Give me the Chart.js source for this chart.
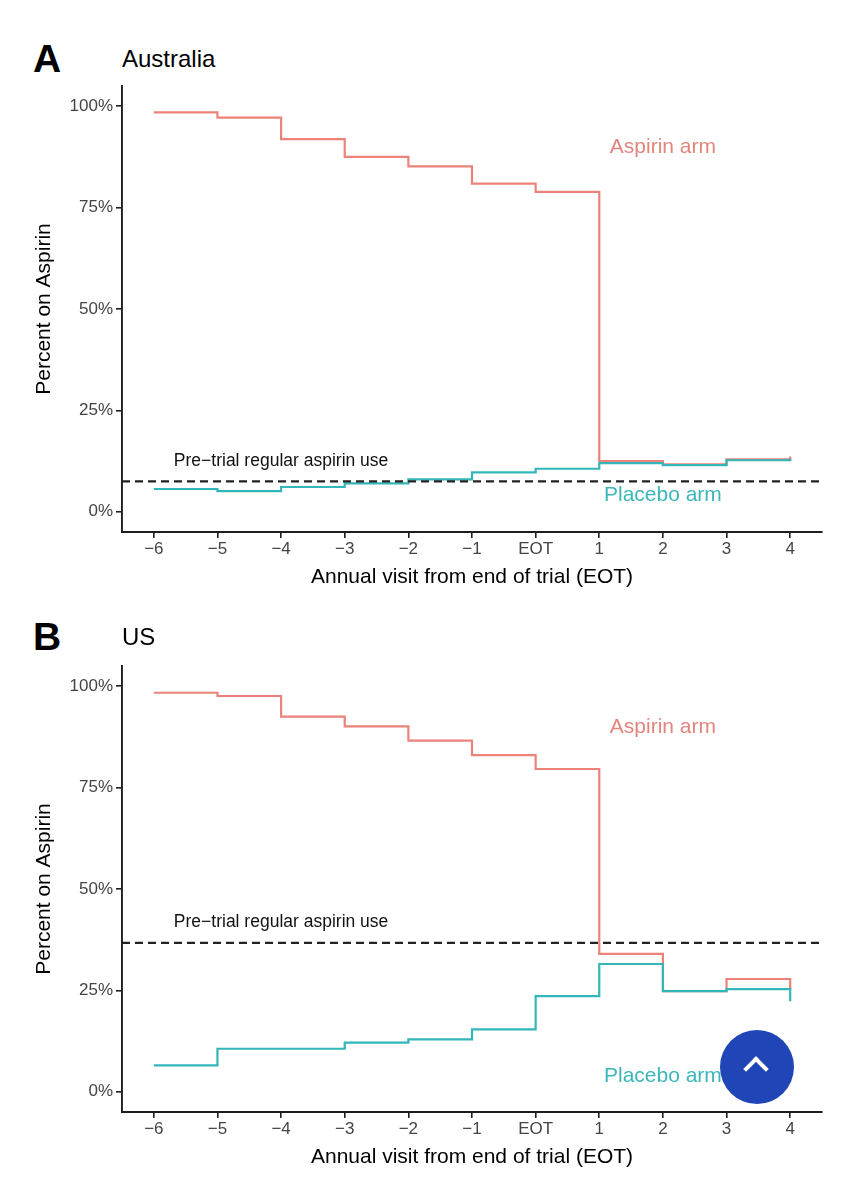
<!DOCTYPE html>
<html>
<head>
<meta charset="utf-8">
<script src="https://cdn.jsdelivr.net/npm/chart.js@4.4.1/dist/chart.umd.min.js"></script>
<style>
  html, body { margin: 0; padding: 0; background: #fff; }
  body { width: 857px; height: 1200px; position: relative; overflow: hidden; font-family: 'Liberation Sans', Arial, sans-serif; }
  .panel { position: absolute; left: 0; }
  .letter { position: absolute; font-weight: bold; font-size: 39px; line-height: 1; color: #000; }
  .title { position: absolute; font-size: 24px; line-height: 1; color: #000; }
  .to-top { position: absolute; left: 720px; top: 1030px; width: 74px; height: 74px; border-radius: 50%; background: #1f45b7; }
  .to-top::after { content: ''; position: absolute; left: 27px; top: 30px; width: 14px; height: 14px; border-left: 4px solid #fff; border-top: 4px solid #fff; transform: rotate(45deg); }
</style>
</head>
<body>
<div class="letter" style="left:33px;top:39px;">A</div>
<div class="title" style="left:122px;top:47px;">Australia</div>
<canvas id="chartAus" class="panel" style="top:0px;" width="857" height="600"></canvas>

<div class="letter" style="left:33px;top:617px;">B</div>
<div class="title" style="left:122px;top:625px;">US</div>
<canvas id="chartUs" class="panel" style="top:580px;" width="857" height="600"></canvas>

<div class="to-top"></div>

<script>
// step data: percent on aspirin at each annual visit
const visits = [-6, -5, -4, -3, -2, -1, 0, 1, 2, 3, 4];
const yTicks = [0, 25, 50, 75, 100];

const ausAspirin = [98.5, 97.2, 91.9, 87.5, 85.2, 80.9, 78.9, 12.5, 11.7, 12.9, 13.6];
const ausPlacebo = [5.6, 5.1, 6.1, 7.0, 8.0, 9.7, 10.6, 12.0, 11.5, 12.7, 13.1];
const ausPretrial = 7.5;

const usAspirin = [98.4, 97.6, 92.5, 90.1, 86.6, 83.0, 79.6, 34.0, 24.8, 27.8, 25.3];
const usPlacebo = [6.5, 10.6, 10.6, 12.1, 12.9, 15.4, 23.6, 31.5, 24.8, 25.3, 22.3];
const usPretrial = 36.7;

// label anchors in data units [x, y]
const ausLabelPos = { aspirin: [2, 90], placebo: [2, 4], pretrial: [-4, 12.5] };
const usLabelPos = { aspirin: [2, 90], placebo: [2, 3.8], pretrial: [-4, 41.7] };

const FONT = "'Liberation Sans', Arial, sans-serif";
const ASPIRIN_COLOR = '#ec8279';
const PLACEBO_COLOR = '#33b6b9';
const AXIS_COLOR = '#1e1e1e';
const X_RANGE = [-6.5, 4.5];

const toPoints = (arr) => visits.map((v, i) => ({ x: v, y: arr[i] }));
const fmtVisit = (v) => (v === 0 ? 'EOT' : String(v).replace('-', '\u2212'));

function makeLabelPlugin(items) {
  return {
    id: 'armLabels',
    afterDatasetsDraw(chart) {
      const { ctx, scales: { x, y } } = chart;
      ctx.save();
      ctx.textAlign = 'center';
      ctx.textBaseline = 'middle';
      items.forEach((item) => {
        ctx.font = `${item.size}px ${FONT}`;
        ctx.fillStyle = item.color;
        ctx.fillText(item.text, x.getPixelForValue(item.pos[0]), y.getPixelForValue(item.pos[1]));
      });
      ctx.restore();
    }
  };
}

function makePanel(canvasId, aspirin, placebo, pretrial, labelPos) {
  const ctx = document.getElementById(canvasId).getContext('2d');
  const labels = [
    { text: 'Aspirin arm', pos: labelPos.aspirin, size: 21, color: '#e2857d' },
    { text: 'Placebo arm', pos: labelPos.placebo, size: 21, color: '#3cb6b8' },
    { text: 'Pre\u2212trial regular aspirin use', pos: labelPos.pretrial, size: 17.5, color: '#111' }
  ];
  return new Chart(ctx, {
    type: 'line',
    data: {
      datasets: [
        {
          label: 'Pre-trial',
          data: X_RANGE.map((x) => ({ x, y: pretrial })),
          borderColor: '#222',
          borderWidth: 2.2,
          borderDash: [8, 5],
          pointRadius: 0
        },
        {
          label: 'Placebo arm',
          data: toPoints(placebo),
          borderColor: PLACEBO_COLOR,
          borderWidth: 2.2,
          stepped: 'before',
          pointRadius: 0
        },
        {
          label: 'Aspirin arm',
          data: toPoints(aspirin),
          borderColor: ASPIRIN_COLOR,
          borderWidth: 2.2,
          stepped: 'before',
          pointRadius: 0
        }
      ]
    },
    options: {
      responsive: false,
      animation: false,
      layout: { padding: { top: 86, right: 35, bottom: 10, left: 0 } },
      plugins: { legend: { display: false }, tooltip: { enabled: false } },
      scales: {
        x: {
          type: 'linear',
          min: X_RANGE[0],
          max: X_RANGE[1],
          afterBuildTicks: (s) => { s.ticks = visits.map((v) => ({ value: v })); },
          afterFit: (s) => { s.height = 58; },
          ticks: { callback: fmtVisit, autoSkip: false, maxRotation: 0, padding: 1, color: '#444', font: { family: FONT, size: 17 } },
          grid: { drawOnChartArea: false, drawTicks: true, tickLength: 6, color: AXIS_COLOR, lineWidth: 1.6 },
          border: { display: true, color: AXIS_COLOR, width: 1.9 },
          title: { display: true, text: 'Annual visit from end of trial (EOT)', color: '#000', padding: 0, font: { family: FONT, size: 21 } }
        },
        y: {
          min: -5,
          max: 105,
          afterBuildTicks: (s) => { s.ticks = yTicks.map((v) => ({ value: v })); },
          afterFit: (s) => { s.width = 122; },
          ticks: { callback: (v) => `${v}%`, padding: 3, color: '#444', font: { family: FONT, size: 17 } },
          grid: { drawOnChartArea: false, drawTicks: true, tickLength: 6, color: AXIS_COLOR, lineWidth: 1.6 },
          border: { display: true, color: AXIS_COLOR, width: 1.9 },
          title: { display: true, text: 'Percent on Aspirin', color: '#000', padding: { top: 32, bottom: 0 }, font: { family: FONT, size: 21 } }
        }
      }
    },
    plugins: [makeLabelPlugin(labels)]
  });
}

makePanel('chartAus', ausAspirin, ausPlacebo, ausPretrial, ausLabelPos);
makePanel('chartUs', usAspirin, usPlacebo, usPretrial, usLabelPos);
</script>
</body>
</html>
